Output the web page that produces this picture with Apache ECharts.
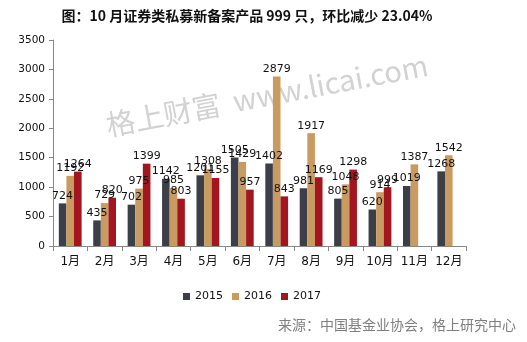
<!DOCTYPE html>
<html>
<head>
<meta charset="utf-8">
<script src="https://cdn.jsdelivr.net/npm/echarts@6/dist/echarts.min.js"></script>
<style>
  html, body { margin: 0; padding: 0; background: #fff; }
  #chart { width: 527px; height: 342px; }
</style>
</head>
<body>
<div id="chart"></div>
<script>
// Monthly counts of newly registered securities private funds
const months = ['1月', '2月', '3月', '4月', '5月', '6月', '7月', '8月', '9月', '10月', '11月', '12月'];
const years = ['2015', '2016', '2017'];
const values2015 = [724, 435, 702, 1142, 1201, 1505, 1402, 981, 805, 620, 1019, 1268];
const values2016 = [1192, 729, 975, 985, 1308, 1429, 2879, 1917, 1048, 914, 1387, 1542];
const values2017 = [1264, 820, 1399, 803, 1155, 957, 843, 1169, 1298, 999, null, null];
const yTicks = [0, 500, 1000, 1500, 2000, 2500, 3000, 3500];

const colors = ['#3c3f47', '#c99b61', '#a3161f'];
const numFont = 'DejaVu Sans, Verdana, sans-serif';

const chart = echarts.init(document.getElementById('chart'), null, { renderer: 'canvas' });

function barSeries(name, data, color) {
  return {
    name: name,
    type: 'bar',
    data: data,
    barWidth: 7.6,
    barGap: '0%',
    itemStyle: { color: color },
    label: {
      show: true,
      position: 'top',
      distance: 2,
      color: '#111',
      fontFamily: numFont,
      fontSize: 11
    }
  };
}

chart.setOption({
  animation: false,
  backgroundColor: '#ffffff',
  color: colors,
  title: {
    text: '图：10 月证券类私募新备案产品 999 只，环比减少 23.04%',
    left: 242,
    textAlign: 'center',
    top: 4,
    textStyle: {
      fontFamily: 'Noto Sans CJK SC, sans-serif',
      fontWeight: 'bold',
      fontSize: 14,
      color: '#111'
    }
  },
  graphic: [
    {
      type: 'text',
      x: 267,
      y: 95,
      rotation: 0.187,
      silent: true,
      z: 0,
      style: {
        text: '格上财富  www.licai.com',
        fill: '#d2d2d2',
        font: '29px "Noto Sans CJK SC", "Liberation Sans", sans-serif',
        textAlign: 'center',
        textVerticalAlign: 'middle'
      }
    },
    {
      type: 'text',
      right: 11,
      top: 318,
      style: {
        text: '来源：中国基金业协会，格上研究中心',
        fill: '#7f7f7f',
        font: '14px "Noto Sans CJK SC", sans-serif'
      }
    }
  ],
  legend: {
    data: years,
    top: 286,
    left: 178,
    itemWidth: 7,
    itemHeight: 7,
    itemGap: 9,
    icon: 'rect',
    textStyle: { fontFamily: numFont, fontSize: 11, color: '#111' }
  },
  grid: { left: 53, right: 61, top: 40, bottom: 96, containLabel: false },
  xAxis: {
    type: 'category',
    data: months,
    axisLine: { lineStyle: { color: '#888', width: 1 } },
    axisTick: { show: true, alignWithLabel: false, length: 5, lineStyle: { color: '#888' } },
    axisLabel: {
      interval: 0,
      margin: 10,
      color: '#111',
      fontFamily: 'DejaVu Sans, Noto Sans CJK SC, sans-serif',
      fontSize: 12
    }
  },
  yAxis: {
    type: 'value',
    min: yTicks[0],
    max: yTicks[yTicks.length - 1],
    interval: 500,
    axisLine: { show: true, lineStyle: { color: '#888', width: 1 } },
    axisTick: { show: true, length: 4, lineStyle: { color: '#888' } },
    splitLine: { show: false },
    axisLabel: {
      margin: 8,
      color: '#111',
      fontFamily: numFont,
      fontSize: 10.5,
      formatter: function (v) { return String(v); }
    }
  },
  series: [
    barSeries(years[0], values2015, colors[0]),
    barSeries(years[1], values2016, colors[1]),
    barSeries(years[2], values2017, colors[2])
  ]
});
</script>
</body>
</html>
